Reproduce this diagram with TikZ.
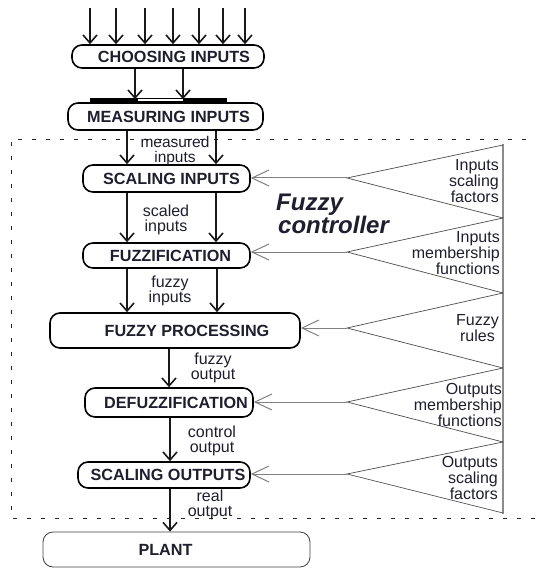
\documentclass[tikz,border=0pt]{standalone}
\usepackage{fontspec}
\setmainfont{Liberation Sans}
\usetikzlibrary{arrows.meta}
\definecolor{txt}{HTML}{1E1E2E}
\begin{document}
\begin{tikzpicture}[x=1pt,y=-1pt,
  box/.style={draw=black, line width=1.6pt, rounded corners=10pt, inner sep=0pt,
    font=\fontsize{16.2}{16}\selectfont\bfseries, text=txt},
  plantbox/.style={draw=black!75, line width=0.8pt, rounded corners=10pt, inner sep=0pt,
    font=\fontsize{16.2}{16}\selectfont\bfseries, text=txt},
  arr/.style={draw=black!90, line width=1.6pt, -{Straight Barb[length=8pt,width=14pt]}},
  sarr/.style={draw=black!50, line width=1pt, -{Straight Barb[length=17pt,width=16pt]}},
  lbl/.style={font=\fontsize{16}{14.5}\selectfont, text=txt, align=center, inner sep=0pt},
  rlbl/.style={font=\fontsize{16}{14.2}\selectfont, text=txt, align=right, inner sep=0pt, anchor=east},
  tri/.style={draw=black!70, line width=0.7pt},
]
\useasboundingbox (0,0) rectangle (535,569);

% dashed frame
\draw[black!85, line width=0.9pt, dash pattern=on 4pt off 10pt] (540,139) -- (11,139) -- (11,518) -- (540,518);

% boxes
\node[box, minimum width=192pt, minimum height=23pt] (choose) at (168,56.5) {\hspace*{12pt}CHOOSING INPUTS};
\node[box, minimum width=195pt, minimum height=27pt] (measure) at (165.5,116.5) {\hspace*{6pt}MEASURING INPUTS};
\node[box, minimum width=167pt, minimum height=27pt] (scalein) at (166.5,178.5) {\hspace*{10pt}SCALING INPUTS};
\node[box, minimum width=167pt, minimum height=25pt] (fuzzif) at (166.5,255.5) {\hspace*{8pt}FUZZIFICATION};
\node[box, minimum width=250pt, minimum height=35pt] (proc) at (175,330.5) {\hspace*{24pt}FUZZY PROCESSING};
\node[box, minimum width=168pt, minimum height=29pt] (defuzz) at (169,402.5) {\hspace*{14pt}DEFUZZIFICATION};
\node[box, minimum width=172pt, minimum height=26pt] (scaleout) at (164,475) {\hspace*{8pt}SCALING OUTPUTS};
\node[plantbox, minimum width=267pt, minimum height=35pt] (plant) at (176.5,549.5) {PLANT\hspace*{22pt}};

% input arrows
\foreach \i/\x in {1/90,2/116,3/145,4/173,5/199,6/223,7/245}{
  \coordinate (in\i) at (\x,8);
  \draw[arr] (in\i) -- (choose.north -| in\i);
}

% measuring bar
\fill[black] (90,98) rectangle (137,102);
\fill[black] (183,98) rectangle (227,102);
\draw[black, line width=0.6pt] (137,98.3) rectangle (183,101.7);

% down arrows
\draw[arr] (choose.south -| 135,0) -- ([yshift=3pt]measure.north -| 135,0);
\draw[arr] (choose.south -| 183,0) -- ([yshift=3pt]measure.north -| 183,0);
\draw[arr] (measure.south -| 127,0) -- (scalein.north -| 127,0);
\draw[arr] (measure.south -| 216,0) -- (scalein.north -| 216,0);
\draw[arr] (scalein.south -| 127,0) -- (fuzzif.north -| 127,0);
\draw[arr] (scalein.south -| 216,0) -- (fuzzif.north -| 216,0);
\draw[arr] (fuzzif.south -| 127,0) -- (proc.north -| 127,0);
\draw[arr] (fuzzif.south -| 217,0) -- (proc.north -| 217,0);
\draw[arr] (proc.south -| 169,0) -- (defuzz.north -| 169,0);
\draw[arr] (defuzz.south -| 170,0) -- (scaleout.north -| 170,0);
\draw[arr] (scaleout.south -| 170,0) -- (plant.north -| 170,0);

% arrow labels
\node[lbl, font=\fontsize{15.5}{15}\selectfont] (l1) at (175,151) {measured\\inputs};
\node[lbl] (l2) at (166,220) {scaled\\inputs};
\node[lbl, font=\fontsize{16}{15.5}\selectfont] (l3) at (170,291) {fuzzy\\inputs};
\node[lbl] (l4) at (213,368) {fuzzy\\output};
\node[lbl] (l5) at (212,441) {control\\output};
\node[lbl, font=\fontsize{16}{14.5}\selectfont] (l6) at (210,505) {real\\output};

% fuzzy controller title
\node[font=\fontsize{24}{22}\selectfont\bfseries\itshape, text=txt, align=left, anchor=west, inner sep=0pt] (fc) at (276,214) {Fuzzy\\\hspace*{2pt}controller};

% knowledge base triangles
\draw[black!45, line width=1.5pt] (503,144) -- (503,514);
\foreach \n/\t/\a/\b in {1/145/178/218, 2/218/252/293, 3/293/328/368, 4/368/402/442, 5/442/474/513}{
  \coordinate (T\n) at (503,\t);
  \coordinate (A\n) at (347,\a);
  \coordinate (B\n) at (503,\b);
  \draw[tri] (T\n) -- (A\n) -- (B\n);
}
\draw[sarr] (A1) -- (scalein.east |- A1);
\draw[sarr] (A2) -- (fuzzif.east |- A2);
\draw[sarr] (A3) -- (proc.east |- A3);
\draw[sarr] (A4) -- (defuzz.east |- A4);
\draw[sarr] (A5) -- (scaleout.east |- A5);

\node[rlbl] (k1) at (499,181) {Inputs\\scaling\\factors};
\node[rlbl] (k2) at (500,253) {Inputs\\membership\\functions};
\node[rlbl, align=center] (k3) at (499,328) {Fuzzy\\rules};
\node[rlbl] (k4) at (502,405) {Outputs\\membership\\functions};
\node[rlbl] (k5) at (498,478) {Outputs\\scaling\\factors};
\end{tikzpicture}
\end{document}
